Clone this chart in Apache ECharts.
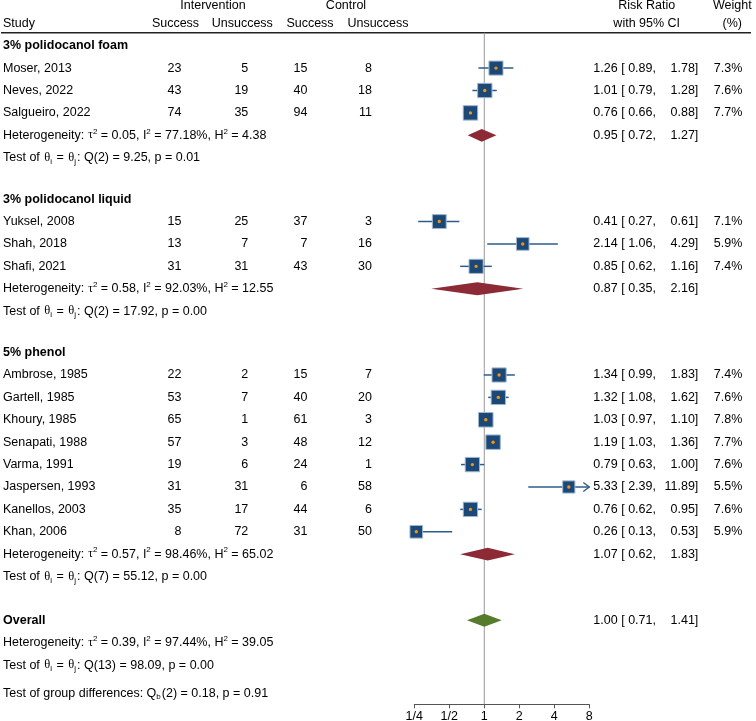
<!DOCTYPE html>
<html><head><meta charset="utf-8">
<script src="https://cdn.jsdelivr.net/npm/echarts@6/dist/echarts.min.js"></script>
<style>html,body{margin:0;padding:0;background:#fff}#chart{width:756px;height:721px}</style>
</head><body><div id="chart"></div>
<script>
// ---------------- DATA ----------------
const groups = ["3% polidocanol foam", "3% polidocanol liquid", "5% phenol"];
const studies = ["Moser, 2013", "Neves, 2022", "Salgueiro, 2022",
  "Yuksel, 2008", "Shah, 2018", "Shafi, 2021",
  "Ambrose, 1985", "Gartell, 1985", "Khoury, 1985", "Senapati, 1988", "Varma, 1991", "Jaspersen, 1993", "Kanellos, 2003", "Khan, 2006"];
const studyGroup = [0,0,0, 1,1,1, 2,2,2,2,2,2,2,2];
const intSuccess   = [23,43,74, 15,13,31, 22,53,65,57,19,31,35,8];
const intUnsuccess = [5,19,35, 25,7,31, 2,7,1,3,6,31,17,72];
const ctlSuccess   = [15,40,94, 37,7,43, 15,40,61,48,24,6,44,31];
const ctlUnsuccess = [8,18,11, 3,16,30, 7,20,3,12,1,58,6,50];
const rr    = [1.26,1.01,0.76, 0.41,2.14,0.85, 1.34,1.32,1.03,1.19,0.79,5.33,0.76,0.26];
const lower = [0.89,0.79,0.66, 0.27,1.06,0.62, 0.99,1.08,0.97,1.03,0.63,2.39,0.62,0.13];
const upper = [1.78,1.28,0.88, 0.61,4.29,1.16, 1.83,1.62,1.10,1.36,1.00,11.89,0.95,0.53];
const weight = [7.3,7.6,7.7, 7.1,5.9,7.4, 7.4,7.6,7.8,7.7,7.6,5.5,7.6,5.9];
const groupRR    = [0.95, 0.87, 1.07];
const groupLower = [0.72, 0.35, 0.62];
const groupUpper = [1.27, 2.16, 1.83];
const groupTau2 = [0.05, 0.58, 0.57];
const groupI2   = [77.18, 92.03, 98.46];
const groupH2   = [4.38, 12.55, 65.02];
const groupQdf  = [2, 2, 7];
const groupQ    = [9.25, 17.92, 55.12];
const groupP    = [0.01, 0.00, 0.00];
const overallRR = 1.00, overallLower = 0.71, overallUpper = 1.41;
const overallTau2 = 0.39, overallI2 = 97.44, overallH2 = 39.05;
const overallQdf = 13, overallQ = 98.09, overallP = 0.00;
const diffQdf = 2, diffQ = 0.18, diffP = 0.91;
const tickValues = [0.25, 0.5, 1, 2, 4, 8];
const tickLabels = ["1/4", "1/2", "1", "2", "4", "8"];

// ---------------- LAYOUT ----------------
const FONT = '"Liberation Sans", Arial, Helvetica, sans-serif';
const SERIF = '"Liberation Serif", "DejaVu Serif", serif';
const FS = 12.5;
const ROW_PX = 22.4, FIRST_PX = 45.7;          // pixel of first group header row
const GROUP_GAP = 1.85, OVERALL_GAP = 1.95, DIFF_GAP = 1.25;
const Y_MIN = -FIRST_PX / ROW_PX;
const Y_MAX_TEXT = (721 - FIRST_PX) / ROW_PX;
const AXIS_PX = 704.3;
const Y_MAX_PLOT = (AXIS_PX - FIRST_PX) / ROW_PX;
const COL = {study: 3, s1: 181.5, u1: 248.3, s2: 307.5, u2: 372, rr: 617.6, lo: 621.2, hi: 698.3, w: 742.3,
  hInt: 213, hCtl: 346, hS1: 175.5, hU1: 242.3, hS2: 310, hU2: 378, hRR: 646.7, hW: 732.3};

const f2 = v => v.toFixed(2);
const rows = [];
rows.push({kind: 'hdr1', idx: -1.8});
rows.push({kind: 'hdr2', idx: -1.0});
rows.push({kind: 'rule', idx: -0.58});
let idx = 0;
const studyIdx = [], groupIdx = [];
groups.forEach((g, gi) => {
  if (gi > 0) idx += GROUP_GAP;
  rows.push({kind: 'group', idx, gi});
  studies.forEach((s, i) => {
    if (studyGroup[i] !== gi) return;
    idx += 1; studyIdx[i] = idx;
    rows.push({kind: 'study', idx, i});
  });
  idx += 1; groupIdx[gi] = idx;
  rows.push({kind: 'het', idx, tau2: groupTau2[gi], I2: groupI2[gi], H2: groupH2[gi],
    est: groupRR[gi], lo: groupLower[gi], hi: groupUpper[gi]});
  idx += 1;
  rows.push({kind: 'test', idx, df: groupQdf[gi], Q: groupQ[gi], p: groupP[gi]});
});
idx += OVERALL_GAP;
const overallIdx = idx;
rows.push({kind: 'overall', idx, est: overallRR, lo: overallLower, hi: overallUpper});
idx += 1;
rows.push({kind: 'het', idx, tau2: overallTau2, I2: overallI2, H2: overallH2});
idx += 1;
rows.push({kind: 'test', idx, df: overallQdf, Q: overallQ, p: overallP});
idx += DIFF_GAP;
rows.push({kind: 'diff', idx});

const rich = {
  n: {fontSize: FS, fontFamily: FONT, lineHeight: 16, fill: '#000'},
  tau: {fontSize: FS - 1, fontFamily: SERIF, lineHeight: 16, fill: '#000', padding: [0, 0, 0, 4]},
  th: {fontSize: FS, fontFamily: SERIF, lineHeight: 16, fill: '#000', padding: [0, 0, 0, 1]},
  sup: {fontSize: 8, fontFamily: FONT, lineHeight: 8, verticalAlign: 'top', fill: '#000'},
  sub: {fontSize: 8, fontFamily: FONT, lineHeight: 8, verticalAlign: 'bottom', fill: '#000', padding: [0, 1, 0, 0]}
};

function T(x, y, text, align, extra) {
  return {type: 'text', x, y, style: Object.assign({text, textAlign: align, textVerticalAlign: 'middle',
    fontSize: FS, fontFamily: FONT, fill: '#000'}, extra || {})};
}
function R(x, y, text) {
  return {type: 'text', x, y, style: {text, textAlign: 'left', textVerticalAlign: 'middle',
    fontSize: FS, fontFamily: FONT, fill: '#000', rich}};
}
function ciTexts(api, y, est, lo, hi) {
  const py = api.coord([0, y])[1];
  return [T(COL.rr, py, f2(est), 'right'), T(COL.lo, py, '[ ' + f2(lo) + ',', 'left'), T(COL.hi, py, f2(hi) + ']', 'right')];
}

function renderText(params, api) {
  const r = rows[params.dataIndex];
  const py = api.coord([0, r.idx])[1];
  const c = [];
  switch (r.kind) {
    case 'hdr1':
      c.push(T(COL.hInt, py, 'Intervention', 'center'), T(COL.hCtl, py, 'Control', 'center'),
        T(COL.hRR, py, 'Risk Ratio', 'center'), T(COL.hW, py, 'Weight', 'center'));
      break;
    case 'hdr2':
      c.push(T(COL.study, py, 'Study', 'left'), T(COL.hS1, py, 'Success', 'center'), T(COL.hU1, py, 'Unsuccess', 'center'),
        T(COL.hS2, py, 'Success', 'center'), T(COL.hU2, py, 'Unsuccess', 'center'),
        T(COL.hRR, py, 'with 95% CI', 'center'), T(COL.hW, py, '(%)', 'center'));
      break;
    case 'rule':
      c.push({type: 'line', shape: {x1: 1, y1: py, x2: 751, y2: py}, style: {stroke: '#222', lineWidth: 1.4}});
      break;
    case 'group':
      c.push(T(COL.study, py, groups[r.gi], 'left', {fontWeight: 'bold'}));
      break;
    case 'study': {
      const i = r.i;
      c.push(T(COL.study, py, studies[i], 'left'), T(COL.s1, py, String(intSuccess[i]), 'right'),
        T(COL.u1, py, String(intUnsuccess[i]), 'right'), T(COL.s2, py, String(ctlSuccess[i]), 'right'),
        T(COL.u2, py, String(ctlUnsuccess[i]), 'right'));
      c.push(...ciTexts(api, r.idx, rr[i], lower[i], upper[i]));
      c.push(T(COL.w, py, weight[i].toFixed(1) + '%', 'right'));
      break;
    }
    case 'het':
      c.push(R(COL.study, py, '{n|Heterogeneity:}{tau|τ}{sup|2}{n| = ' + f2(r.tau2) + ', I}{sup|2}{n| = ' + f2(r.I2) +
        '%, H}{sup|2}{n| = ' + f2(r.H2) + '}'));
      if (r.est !== undefined) c.push(...ciTexts(api, r.idx, r.est, r.lo, r.hi));
      break;
    case 'test':
      c.push(R(COL.study, py, '{n|Test of }{th|θ}{sub|i}{n| = }{th|θ}{sub|j}{n|: Q(' + r.df + ') = ' + f2(r.Q) + ', p = ' + f2(r.p) + '}'));
      break;
    case 'overall':
      c.push(T(COL.study, py, 'Overall', 'left', {fontWeight: 'bold'}));
      c.push(...ciTexts(api, r.idx, r.est, r.lo, r.hi));
      break;
    case 'diff':
      c.push(R(COL.study, py, '{n|Test of group differences: Q}{sub|b}{n|(' + diffQdf + ') = ' + f2(diffQ) + ', p = ' + f2(diffP) + '}'));
      break;
  }
  return {type: 'group', children: c};
}

const X_MIN = tickValues[0], X_MAX = tickValues[tickValues.length - 1];
const studyData = studies.map((s, i) => [rr[i], studyIdx[i], lower[i], upper[i], weight[i]]);
const groupData = groups.map((g, gi) => [groupRR[gi], groupIdx[gi], groupLower[gi], groupUpper[gi]]);
const overallData = [[overallRR, overallIdx, overallLower, overallUpper]];

function renderStudy(params, api) {
  const est = api.value(0), y = api.value(1), lo = api.value(2), hi = api.value(3), w = api.value(4);
  const loC = Math.max(lo, X_MIN), hiC = Math.min(hi, X_MAX);
  const p0 = api.coord([loC, y]), p1 = api.coord([hiC, y]), c = api.coord([est, y]);
  const s = 5.2 * Math.sqrt(w);
  const lc = '#2d5c8c';
  const kids = [{type: 'line', shape: {x1: p0[0], y1: p0[1], x2: p1[0], y2: p1[1]}, style: {stroke: lc, lineWidth: 1.5}}];
  if (hi > X_MAX) kids.push({type: 'polyline', shape: {points: [[p1[0] - 6, p1[1] - 4.5], [p1[0], p1[1]], [p1[0] - 6, p1[1] + 4.5]]},
    style: {stroke: lc, lineWidth: 1.4, fill: null}});
  if (lo < X_MIN) kids.push({type: 'polyline', shape: {points: [[p0[0] + 6, p0[1] - 4.5], [p0[0], p0[1]], [p0[0] + 6, p0[1] + 4.5]]},
    style: {stroke: lc, lineWidth: 1.4, fill: null}});
  kids.push({type: 'rect', shape: {x: c[0] - s / 2, y: c[1] - s / 2, width: s, height: s},
    style: {fill: '#1b4876', stroke: '#9fb6cf', lineWidth: 1}});
  kids.push({type: 'circle', shape: {cx: c[0], cy: c[1], r: 1.7}, style: {fill: '#f4930f'}});
  return {type: 'group', children: kids};
}
function makeDiamond(color) {
  return function (params, api) {
    const est = api.value(0), y = api.value(1), lo = api.value(2), hi = api.value(3);
    const a = api.coord([lo, y]), b = api.coord([hi, y]), c = api.coord([est, y]);
    const h = 6.4;
    return {type: 'polygon', shape: {points: [[a[0], a[1]], [c[0], c[1] - h], [b[0], b[1]], [c[0], c[1] + h]]},
      style: {fill: color}};
  };
}
function renderRef(params, api) {
  const a = api.coord([api.value(0), api.value(1)]);
  const b = api.coord([api.value(0), Y_MAX_PLOT]);
  return {type: 'line', shape: {x1: a[0], y1: a[1], x2: b[0], y2: b[1]}, style: {stroke: '#999', lineWidth: 1}};
}

const chart = echarts.init(document.getElementById('chart'), null, {renderer: 'canvas'});
chart.setOption({
  animation: false,
  backgroundColor: '#fff',
  grid: [
    {left: 414.3, width: 175, top: 0, height: AXIS_PX, containLabel: false, outerBoundsMode: 'none'},
    {left: 0, width: 756, top: 0, height: 721, containLabel: false, outerBoundsMode: 'none'}
  ],
  xAxis: [
    {gridIndex: 0, type: 'log', logBase: 2, min: X_MIN, max: X_MAX, position: 'bottom',
      axisLine: {show: true, onZero: false, lineStyle: {color: '#555', width: 1}},
      axisTick: {show: true, length: 4, inside: false, lineStyle: {color: '#555', width: 1}},
      axisLabel: {show: true, margin: 6, color: '#000', fontSize: FS, fontFamily: FONT,
        formatter: v => { const k = tickValues.findIndex(t => Math.abs(t - v) < 1e-6); return k >= 0 ? tickLabels[k] : ''; }},
      splitLine: {show: false}},
    {gridIndex: 1, type: 'value', min: 0, max: 756, show: false}
  ],
  yAxis: [
    {gridIndex: 0, type: 'value', inverse: true, min: Y_MIN, max: Y_MAX_PLOT, show: false},
    {gridIndex: 1, type: 'value', inverse: true, min: Y_MIN, max: Y_MAX_TEXT, show: false}
  ],
  series: [
    {type: 'custom', xAxisIndex: 1, yAxisIndex: 1, data: rows.map(r => [0, r.idx]), renderItem: renderText, silent: true},
    {type: 'custom', xAxisIndex: 0, yAxisIndex: 0, data: [[1, -0.58]], renderItem: renderRef, silent: true},
    {type: 'custom', xAxisIndex: 0, yAxisIndex: 0, data: studyData, renderItem: renderStudy, silent: true, z: 3},
    {type: 'custom', xAxisIndex: 0, yAxisIndex: 0, data: groupData, renderItem: makeDiamond('#8c2a36'), silent: true, z: 3},
    {type: 'custom', xAxisIndex: 0, yAxisIndex: 0, data: overallData, renderItem: makeDiamond('#557b2b'), silent: true, z: 3}
  ]
});
</script>
</body></html>
